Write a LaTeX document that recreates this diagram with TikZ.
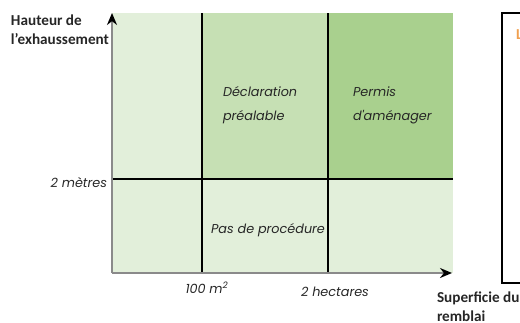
\documentclass[tikz,border=0pt]{standalone}
\usepackage{fontspec}
\setmainfont{Carlito}
\newfontfamily\geofont{Poppins}
\usetikzlibrary{arrows.meta}
\definecolor{cellpale}{HTML}{E2EFDA}
\definecolor{cellmid}{HTML}{C6E0B4}
\definecolor{celldark}{HTML}{A9D08E}
\definecolor{axisgray}{HTML}{8A8A8A}
\definecolor{keyorange}{HTML}{F0A050}

\begin{document}
\begin{tikzpicture}[x=0.75pt,y=-0.75pt,line width=1.5pt,>=Stealth]
\tikzset{gridline/.style={draw=black,line width=1.5pt},
  axisline/.style={draw=axisgray,line width=1.6pt,-{Stealth[black,length=9pt,width=7.5pt]}},
  ital/.style={font=\geofont\itshape\fontsize{9.6}{18}\selectfont,text=black!85,inner sep=0pt},
  axistitle/.style={font=\bfseries\fontsize{11.4}{14.2}\selectfont,text=black!85,align=left,inner sep=0pt}}
\useasboundingbox (0,0) rectangle (520,322);
\clip (0,0) rectangle (520,322);
% ---------- cells ----------
\fill[cellpale] (112,13) rectangle (202,273);
\fill[cellmid] (202,13) rectangle (328,179);
\fill[celldark] (328,13) rectangle (453,179);
\fill[cellpale] (202,179) rectangle (453,273);
% ---------- thresholds ----------
\draw[gridline] (202,13) -- (202,273);
\draw[gridline] (328,13) -- (328,273);
\draw[gridline] (112,179) -- (453,179);
% ---------- axes ----------
\coordinate (origin) at (112,273);
\coordinate (ytip) at (112,13);
\coordinate (xtip) at (452,273);
\draw[axisline] (origin) -- (ytip);
\draw[axisline] (origin) -- (xtip);
\node[axistitle,anchor=north west] (ytitle) at (10,14) {Hauteur de\\l'exhaussement};
\node[axistitle,anchor=north west] (xtitle) at (436,291) {Superficie du\\remblai};
\node[ital,anchor=east] (hlabel) at (108,183) {2 mètres};
\node[ital] (alabel) at (207,288) {100 m\textsuperscript{2}};
\node[ital] (blabel) at (335,292) {2 hectares};
% ---------- procedures ----------
\node[ital,align=left,anchor=west] (decl) at (222,105) {Déclaration\\préalable};
\node[ital,align=left,anchor=west] (permis) at (352,105) {Permis\\d'aménager};
\node[ital] (pas) at (268,230) {Pas de procédure};
% ---------- key box ----------
\draw[line width=1.5pt] (502,13) rectangle (540,283);
\node[axistitle,text=keyorange,anchor=west] (key) at (515,35) {Légende};
\end{tikzpicture}
\end{document}
